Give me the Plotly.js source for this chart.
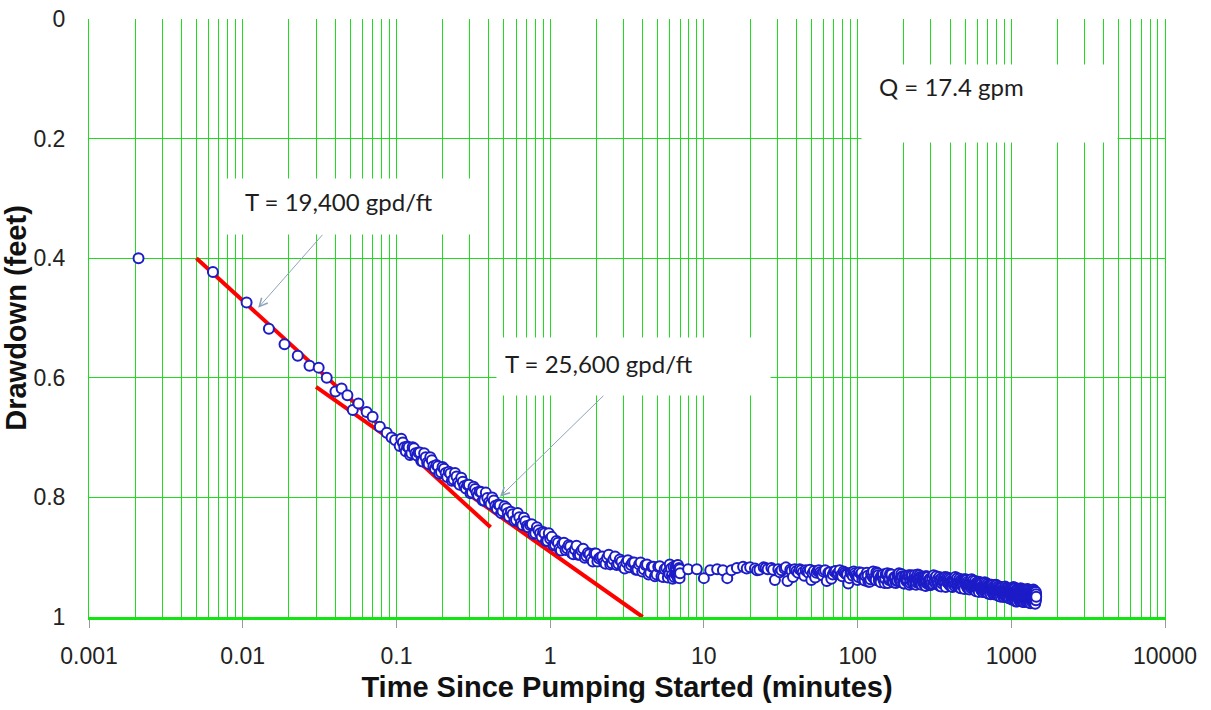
<!DOCTYPE html>
<html>
<head>
<meta charset="utf-8">
<script src="https://cdn.plot.ly/plotly-3.0.1.min.js"></script>
<style>html,body{margin:0;padding:0;background:#fff;}#chart{width:1211px;height:710px;}</style>
</head>
<body>
<div id="chart"></div>
<script>
// ---- Data ----
// Early time (minutes) and drawdown (feet)
const earlyTime = [0.0021, 0.0064, 0.0106, 0.0148, 0.0187, 0.0228, 0.0272, 0.0312, 0.0352, 0.0401,
  0.044, 0.048, 0.052, 0.0566, 0.064, 0.070, 0.078, 0.0865, 0.093, 0.098];
const earlyDraw = [0.400, 0.423, 0.474, 0.518, 0.544, 0.563, 0.580, 0.583, 0.600, 0.623,
  0.618, 0.629, 0.654, 0.643, 0.657, 0.665, 0.682, 0.692, 0.700, 0.704];

const midTime = [0.105, 0.11, 0.115, 0.12, 0.125, 0.13, 0.136, 0.142, 0.148, 0.155,
  0.162, 0.17, 0.178, 0.186, 0.195, 0.204, 0.214, 0.224, 0.235, 0.246,
  0.258, 0.27, 0.283, 0.296, 0.31, 0.325, 0.34, 0.356, 0.373, 0.39,
  0.41, 0.43, 0.45, 0.47, 0.49, 0.52, 0.54, 0.57, 0.6, 0.63,
  0.66, 0.69, 0.72, 0.76, 0.8, 0.84, 0.88, 0.92, 0.96, 1.0];
const midDraw = [0.714, 0.708, 0.723, 0.716, 0.726, 0.718, 0.730, 0.725, 0.740, 0.733,
  0.744, 0.738, 0.752, 0.748, 0.758, 0.752, 0.766, 0.760, 0.770, 0.765,
  0.779, 0.774, 0.785, 0.779, 0.792, 0.786, 0.797, 0.791, 0.805, 0.801,
  0.811, 0.805, 0.819, 0.813, 0.823, 0.818, 0.832, 0.828, 0.838, 0.833,
  0.846, 0.840, 0.850, 0.845, 0.860, 0.855, 0.866, 0.860, 0.873, 0.869];

const midTime2 = [0.1075, 0.1125, 0.1175, 0.1225, 0.1275, 0.133, 0.139, 0.145, 0.1515, 0.1585,
  0.166, 0.174, 0.182, 0.19, 0.1995, 0.209, 0.219, 0.2295, 0.2405, 0.252,
  0.264, 0.2765, 0.2895, 0.303, 0.3175, 0.3325, 0.348, 0.3645, 0.3815, 0.40,
  0.42, 0.44, 0.46, 0.48, 0.505, 0.53, 0.555, 0.585, 0.615, 0.645,
  0.675, 0.705, 0.74, 0.78, 0.82, 0.86, 0.90, 0.94, 0.98];
const midDraw2 = [0.702, 0.716, 0.715, 0.729, 0.716, 0.726, 0.725, 0.739, 0.726, 0.742,
  0.733, 0.748, 0.746, 0.760, 0.749, 0.759, 0.757, 0.772, 0.759, 0.775,
  0.767, 0.781, 0.779, 0.793, 0.782, 0.792, 0.790, 0.805, 0.792, 0.808,
  0.800, 0.814, 0.812, 0.826, 0.815, 0.826, 0.824, 0.839, 0.826, 0.843,
  0.834, 0.848, 0.846, 0.861, 0.850, 0.860, 0.858, 0.873, 0.860];

const transTime = [1.05, 1.1, 1.15, 1.2, 1.26, 1.32, 1.38, 1.45, 1.52, 1.6,
  1.68, 1.76, 1.85, 1.94, 2.03, 2.13, 2.24, 2.35, 2.46, 2.58,
  2.71, 2.84, 2.98, 3.13, 3.28, 3.44, 3.61, 3.79, 3.97, 4.17,
  4.37, 4.59, 4.81, 5.05, 5.3, 5.56, 5.83, 6.12, 6.42, 6.7,
  6.8, 6.85, 6.9, 6.95];
const transDraw = [0.880, 0.873, 0.886, 0.878, 0.888, 0.880, 0.893, 0.887, 0.896, 0.889,
  0.901, 0.893, 0.903, 0.894, 0.907, 0.900, 0.909, 0.901, 0.912, 0.904,
  0.913, 0.904, 0.916, 0.909, 0.917, 0.909, 0.921, 0.912, 0.924, 0.913,
  0.929, 0.916, 0.932, 0.916, 0.932, 0.920, 0.934, 0.919, 0.933, 0.914,
  0.926, 0.930, 0.918, 0.935];

const transTime2 = [1.025, 1.075, 1.125, 1.175, 1.23, 1.29, 1.35, 1.415, 1.485, 1.56,
  1.64, 1.72, 1.805, 1.895, 1.985, 2.08, 2.185, 2.295, 2.405, 2.52,
  2.645, 2.775, 2.91, 3.055, 3.205, 3.36, 3.525, 3.7, 3.88, 4.07,
  4.27, 4.48, 4.7, 4.93, 5.17, 5.43, 5.7, 5.97, 6.27, 6.55,
  6.62, 6.75, 6.88, 5.9, 6.0, 6.2, 6.35, 6.5, 6.6, 6.72,
  6.78, 6.83, 6.92, 6.97, 7.0];
const transDraw2 = [0.866, 0.879, 0.876, 0.889, 0.876, 0.885, 0.882, 0.895, 0.881, 0.896,
  0.886, 0.898, 0.895, 0.907, 0.894, 0.902, 0.899, 0.911, 0.896, 0.910,
  0.899, 0.911, 0.907, 0.919, 0.905, 0.913, 0.909, 0.921, 0.909, 0.920,
  0.912, 0.926, 0.916, 0.929, 0.915, 0.933, 0.918, 0.928, 0.936, 0.916,
  0.929, 0.934, 0.922, 0.924, 0.912, 0.930, 0.916, 0.927, 0.921, 0.932,
  0.913, 0.924, 0.929, 0.920, 0.927];

const flatTime = [7.9, 9.0, 10.0, 11.0, 12.2, 13.3, 14.2, 15.1, 16.4, 18,
  20, 21.5, 23, 24.5, 26, 27.5, 29, 30.5, 32, 33.5,
  35, 36.5, 38, 40, 42, 44, 46, 48, 50, 52,
  54, 56, 58, 60, 63, 66, 69, 72, 75, 78,
  81, 84, 87, 90, 93, 96, 99];
const flatDraw = [0.920, 0.920, 0.935, 0.922, 0.920, 0.922, 0.935, 0.922, 0.918, 0.916,
  0.917, 0.919, 0.921, 0.917, 0.920, 0.918, 0.938, 0.920, 0.922, 0.919,
  0.940, 0.921, 0.933, 0.923, 0.920, 0.925, 0.922, 0.926, 0.938, 0.923,
  0.926, 0.922, 0.928, 0.924, 0.940, 0.925, 0.929, 0.923, 0.927, 0.930,
  0.924, 0.928, 0.944, 0.926, 0.931, 0.927, 0.933];

const flatTime2 = [19, 22.2, 25.2, 28.2, 31.2, 34.2, 37.2, 39, 41, 43,
  45, 47, 49, 51, 53, 55, 57, 59, 61.5, 64.5,
  67.5, 70.5, 73.5, 76.5, 79.5, 82.5, 85.5, 88.5, 91.5, 94.5, 97.5];
const flatDraw2 = [0.919, 0.922, 0.918, 0.921, 0.925, 0.917, 0.923, 0.920, 0.926, 0.922,
  0.931, 0.924, 0.921, 0.927, 0.934, 0.923, 0.925, 0.930, 0.922, 0.926,
  0.936, 0.924, 0.928, 0.922, 0.932, 0.926, 0.929, 0.935, 0.927, 0.924, 0.930];

const lateTime = [100, 105, 110, 115, 120, 125, 130, 135, 140, 145,
  150, 155, 160, 165, 170, 175, 180, 185, 190, 195,
  200, 205, 210, 215, 220, 225, 230, 235, 240, 245,
  250, 255, 260, 265, 270, 275, 280, 285, 290, 295,
  300, 310, 320, 330, 340, 350, 360, 370, 380, 390,
  400, 410, 420, 430, 440, 450, 460, 470, 480, 490,
  500, 510, 520, 530, 540, 550, 560, 570, 580, 590,
  600, 610, 620, 630, 640, 650, 660, 670, 680, 690,
  700, 710, 720, 730, 740, 750, 760, 770, 780, 790,
  800, 810, 820, 830, 840, 850, 860, 870, 880, 890,
  900, 910, 920, 930, 940, 950, 960, 970, 980, 990,
  1000, 1010, 1020, 1030, 1040, 1050, 1060, 1070, 1080, 1090,
  1100, 1110, 1120, 1130, 1140, 1150, 1160, 1170, 1180, 1190,
  1200, 1210, 1220, 1230, 1240, 1250, 1260, 1270, 1280, 1290,
  1300, 1310, 1320, 1330, 1340, 1350, 1360, 1370, 1380, 1390,
  1400, 1410, 1420, 1430, 1440, 1442, 1445, 1448, 1450, 1453];
const lateDraw = [0.938, 0.928, 0.934, 0.926, 0.941, 0.932, 0.937, 0.927, 0.935, 0.931,
  0.943, 0.929, 0.938, 0.929, 0.942, 0.933, 0.940, 0.929, 0.938, 0.932,
  0.944, 0.935, 0.940, 0.931, 0.943, 0.934, 0.938, 0.930, 0.946, 0.936,
  0.943, 0.933, 0.941, 0.934, 0.945, 0.938, 0.943, 0.933, 0.941, 0.936,
  0.945, 0.945, 0.934, 0.942, 0.933, 0.949, 0.938, 0.944, 0.935, 0.942,
  0.937, 0.949, 0.939, 0.948, 0.937, 0.945, 0.936, 0.952, 0.941, 0.948,
  0.938, 0.945, 0.941, 0.953, 0.943, 0.952, 0.941, 0.949, 0.940, 0.957,
  0.946, 0.952, 0.943, 0.950, 0.945, 0.958, 0.947, 0.957, 0.946, 0.953,
  0.945, 0.961, 0.950, 0.957, 0.947, 0.954, 0.950, 0.962, 0.951, 0.961,
  0.950, 0.957, 0.949, 0.965, 0.954, 0.961, 0.951, 0.958, 0.954, 0.966,
  0.955, 0.964, 0.954, 0.961, 0.952, 0.968, 0.957, 0.964, 0.954, 0.961,
  0.956, 0.970, 0.957, 0.969, 0.955, 0.964, 0.952, 0.974, 0.959, 0.967,
  0.954, 0.963, 0.957, 0.973, 0.959, 0.971, 0.957, 0.966, 0.954, 0.975,
  0.960, 0.968, 0.955, 0.965, 0.959, 0.974, 0.960, 0.972, 0.958, 0.967,
  0.955, 0.976, 0.961, 0.970, 0.957, 0.966, 0.960, 0.975, 0.961, 0.973,
  0.959, 0.969, 0.957, 0.978, 0.963, 0.968, 0.958, 0.972, 0.962, 0.966];

const lateTime2 = [102.5, 107.5, 112.5, 117.5, 122.5, 127.5, 132.5, 137.5, 142.5, 147.5,
  152.5, 157.5, 162.5, 167.5, 172.5, 177.5, 182.5, 187.5, 192.5, 197.5,
  202.5, 207.5, 212.5, 217.5, 222.5, 227.5, 232.5, 237.5, 242.5, 247.5,
  252.5, 257.5, 262.5, 267.5, 272.5, 277.5, 282.5, 287.5, 292.5, 297.5,
  305, 315, 325, 335, 345, 355, 365, 375, 385, 395,
  405, 415, 425, 435, 445, 455, 465, 475, 485, 495,
  505, 515, 525, 535, 545, 555, 565, 575, 585, 595,
  605, 615, 625, 635, 645, 655, 665, 675, 685, 695,
  705, 715, 725, 735, 745, 755, 765, 775, 785, 795,
  805, 815, 825, 835, 845, 855, 865, 875, 885, 895,
  905, 915, 925, 935, 945, 955, 965, 975, 985, 995,
  1005, 1015, 1025, 1035, 1045, 1055, 1065, 1075, 1085, 1095,
  1105, 1115, 1125, 1135, 1145, 1155, 1165, 1175, 1185, 1195,
  1205, 1215, 1225, 1235, 1245, 1255, 1265, 1275, 1285, 1295,
  1305, 1315, 1325, 1335, 1345, 1355, 1365, 1375, 1385, 1395,
  1405, 1415, 1425, 1435];
const lateDraw2 = [0.925, 0.937, 0.931, 0.941, 0.928, 0.935, 0.925, 0.939, 0.931, 0.938,
  0.928, 0.943, 0.928, 0.940, 0.934, 0.943, 0.930, 0.938, 0.928, 0.942,
  0.933, 0.940, 0.931, 0.946, 0.930, 0.942, 0.936, 0.945, 0.933, 0.940,
  0.930, 0.944, 0.935, 0.942, 0.933, 0.948, 0.932, 0.944, 0.938, 0.947,
  0.934, 0.941, 0.932, 0.946, 0.937, 0.944, 0.934, 0.950, 0.934, 0.946,
  0.940, 0.950, 0.937, 0.944, 0.935, 0.949, 0.940, 0.947, 0.938, 0.953,
  0.937, 0.950, 0.944, 0.954, 0.941, 0.948, 0.939, 0.953, 0.945, 0.952,
  0.942, 0.958, 0.942, 0.954, 0.949, 0.958, 0.946, 0.953, 0.943, 0.958,
  0.949, 0.956, 0.947, 0.962, 0.946, 0.959, 0.953, 0.962, 0.950, 0.957,
  0.947, 0.962, 0.953, 0.960, 0.951, 0.966, 0.950, 0.963, 0.957, 0.966,
  0.953, 0.961, 0.951, 0.965, 0.956, 0.963, 0.954, 0.969, 0.953, 0.965,
  0.959, 0.971, 0.954, 0.964, 0.951, 0.969, 0.958, 0.967, 0.954, 0.974,
  0.953, 0.968, 0.962, 0.973, 0.956, 0.966, 0.953, 0.971, 0.959, 0.968,
  0.955, 0.975, 0.955, 0.970, 0.963, 0.974, 0.957, 0.967, 0.954, 0.972,
  0.960, 0.969, 0.957, 0.977, 0.956, 0.971, 0.964, 0.975, 0.958, 0.968,
  0.956, 0.974, 0.962, 0.971];

const lateTime3 = [101.25, 106.25, 111.25, 116.25, 121.25, 126.25, 131.25, 136.25, 141.25, 146.25,
  151.25, 156.25, 161.25, 166.25, 171.25, 176.25, 181.25, 186.25, 191.25, 196.25,
  201.25, 206.25, 211.25, 216.25, 221.25, 226.25, 231.25, 236.25, 241.25, 246.25,
  251.25, 256.25, 261.25, 266.25, 271.25, 276.25, 281.25, 286.25, 291.25, 296.25,
  302.5, 312.5, 322.5, 332.5, 342.5, 352.5, 362.5, 372.5, 382.5, 392.5,
  402.5, 412.5, 422.5, 432.5, 442.5, 452.5, 462.5, 472.5, 482.5, 492.5,
  502.5, 512.5, 522.5, 532.5, 542.5, 552.5, 562.5, 572.5, 582.5, 592.5,
  602.5, 612.5, 622.5, 632.5, 642.5, 652.5, 662.5, 672.5, 682.5, 692.5,
  702.5, 712.5, 722.5, 732.5, 742.5, 752.5, 762.5, 772.5, 782.5, 792.5,
  802.5, 812.5, 822.5, 832.5, 842.5, 852.5, 862.5, 872.5, 882.5, 892.5,
  902.5, 912.5, 922.5, 932.5, 942.5, 952.5, 962.5, 972.5, 982.5, 992.5,
  1002.5, 1012.5, 1022.5, 1032.5, 1042.5, 1052.5, 1062.5, 1072.5, 1082.5, 1092.5,
  1102.5, 1112.5, 1122.5, 1132.5, 1142.5, 1152.5, 1162.5, 1172.5, 1182.5, 1192.5,
  1202.5, 1212.5, 1222.5, 1232.5, 1242.5, 1252.5, 1262.5, 1272.5, 1282.5, 1292.5,
  1302.5, 1312.5, 1322.5, 1332.5, 1342.5, 1352.5, 1362.5, 1372.5, 1382.5, 1392.5,
  1402.5, 1412.5, 1422.5, 1432.5];
const lateDraw3 = [0.933, 0.926, 0.939, 0.931, 0.937, 0.924, 0.938, 0.930, 0.942, 0.929,
  0.936, 0.927, 0.936, 0.929, 0.942, 0.933, 0.939, 0.927, 0.941, 0.933,
  0.944, 0.931, 0.938, 0.930, 0.938, 0.931, 0.944, 0.935, 0.942, 0.929,
  0.943, 0.935, 0.946, 0.933, 0.941, 0.932, 0.940, 0.933, 0.946, 0.937,
  0.943, 0.930, 0.944, 0.937, 0.948, 0.935, 0.942, 0.933, 0.942, 0.935,
  0.948, 0.939, 0.946, 0.933, 0.947, 0.940, 0.951, 0.938, 0.945, 0.937,
  0.945, 0.938, 0.952, 0.943, 0.950, 0.937, 0.951, 0.944, 0.955, 0.943,
  0.950, 0.941, 0.950, 0.943, 0.956, 0.948, 0.954, 0.942, 0.956, 0.948,
  0.960, 0.947, 0.954, 0.946, 0.954, 0.947, 0.961, 0.952, 0.958, 0.946,
  0.960, 0.952, 0.964, 0.951, 0.958, 0.950, 0.958, 0.951, 0.965, 0.956,
  0.962, 0.949, 0.964, 0.956, 0.967, 0.954, 0.961, 0.953, 0.961, 0.954,
  0.969, 0.957, 0.966, 0.950, 0.967, 0.957, 0.972, 0.956, 0.965, 0.953,
  0.963, 0.954, 0.971, 0.960, 0.968, 0.952, 0.969, 0.959, 0.973, 0.957,
  0.966, 0.954, 0.964, 0.956, 0.973, 0.961, 0.969, 0.953, 0.970, 0.960,
  0.974, 0.958, 0.967, 0.956, 0.966, 0.957, 0.974, 0.962, 0.970, 0.954,
  0.972, 0.962, 0.976, 0.960];

// Straight-line (Cooper-Jacob) fits drawn in red
const fit1Time = [0.005, 0.41];
const fit1Draw = [0.400, 0.850];
const fit2Time = [0.03, 4.0];
const fit2Draw = [0.615, 1.000];

// Axis tick labels
const xTickVals = [0.001, 0.01, 0.1, 1, 10, 100, 1000, 10000];
const xTickText = ['0.001', '0.01', '0.1', '1', '10', '100', '1000', '10000'];
const yTickVals = [0, 0.2, 0.4, 0.6, 0.8, 1];
const yTickText = ['0', '0.2', '0.4', '0.6', '0.8', '1'];

// Annotation texts and the points they refer to
const noteTexts = ['T = 19,400 gpd/ft', 'T = 25,600 gpd/ft', 'Q = 17.4 gpm'];
const noteTargetsTime = [0.0126, 0.472, 418];
const noteTargetsDraw = [0.483, 0.799, 0.115];

// ---- Build chart ----
const GREEN = '#1fdc1f';
const rawTime = earlyTime.concat(midTime, midTime2, transTime, transTime2, flatTime, flatTime2, lateTime, lateTime2, lateTime3);
const rawDraw = earlyDraw.concat(midDraw, midDraw2, transDraw, transDraw2, flatDraw, flatDraw2, lateDraw, lateDraw2, lateDraw3);
// plot the readings in chronological order (as a logger records them)
const order = rawTime.map((t, i) => i).sort((a, b) => rawTime[a] - rawTime[b]);
const allTime = order.map(i => rawTime[i]);
const allDraw = order.map(i => rawDraw[i]);

const traces = [
  {x: fit1Time, y: fit1Draw, type: 'scatter', mode: 'lines', line: {color: '#ff0000', width: 4}, hoverinfo: 'skip'},
  {x: fit2Time, y: fit2Draw, type: 'scatter', mode: 'lines', line: {color: '#ff0000', width: 4}, hoverinfo: 'skip'},
  {x: allTime, y: allDraw, type: 'scatter', mode: 'markers',
   marker: {symbol: 'circle', size: 10, color: '#ffffff', line: {color: '#1c1cc8', width: 2}}}
];

const noteFont = {family: 'Lato, "Open Sans", sans-serif', size: 24, color: '#1e1e1e'};
const arrowColor = '#8da3bb';

const annotations = [
  // white boxes (with arrows for the transmissivity notes)
  {x: Math.log10(noteTargetsTime[0]), y: noteTargetsDraw[0], xref: 'x', yref: 'y', text: ' ',
   showarrow: true, ax: 89, ay: -101, arrowhead: 5, arrowsize: 1.6, arrowwidth: 1, arrowcolor: arrowColor,
   bgcolor: '#ffffff', width: 245, height: 55, borderpad: 0},
  {x: Math.log10(noteTargetsTime[1]), y: noteTargetsDraw[1], xref: 'x', yref: 'y', text: ' ',
   showarrow: true, ax: 133, ay: -130, arrowhead: 5, arrowsize: 1.6, arrowwidth: 1, arrowcolor: arrowColor,
   bgcolor: '#ffffff', width: 273, height: 57, borderpad: 0},
  {x: Math.log10(noteTargetsTime[2]), y: noteTargetsDraw[2], xref: 'x', yref: 'y', text: ' ',
   showarrow: false, xshift: 36, yshift: -16, bgcolor: '#ffffff', width: 255, height: 77, borderpad: 0},
  // texts
  {x: Math.log10(noteTargetsTime[0]), y: noteTargetsDraw[0], xref: 'x', yref: 'y', text: noteTexts[0],
   showarrow: false, xanchor: 'left', xshift: -15, yshift: 106, font: noteFont},
  {x: Math.log10(noteTargetsTime[1]), y: noteTargetsDraw[1], xref: 'x', yref: 'y', text: noteTexts[1],
   showarrow: false, xanchor: 'left', xshift: 3, yshift: 133, font: noteFont},
  {x: Math.log10(noteTargetsTime[2]), y: noteTargetsDraw[2], xref: 'x', yref: 'y', text: noteTexts[2],
   showarrow: false, xanchor: 'left', xshift: -76, yshift: 1, font: noteFont}
];

const axisFont = {family: '"Liberation Sans", Arial, sans-serif', size: 23, color: '#222222'};
const titleFont = {family: '"Liberation Sans", Arial, sans-serif', size: 29, color: '#111111', weight: 'bold'};

const layout = {
  width: 1211, height: 710,
  margin: {l: 89, r: 46, t: 19, b: 93},
  paper_bgcolor: '#ffffff', plot_bgcolor: '#ffffff',
  showlegend: false,
  xaxis: {
    type: 'log', range: [-3, 4],
    tickmode: 'array', tickvals: xTickVals, ticktext: xTickText,
    ticks: 'outside', ticklen: 8, tickcolor: '#9a9a9a', tickwidth: 1,
    ticklabelstandoff: 8,
    showgrid: true, gridcolor: GREEN, gridwidth: 1,
    minor: {dtick: 'D1', showgrid: true, gridcolor: GREEN, gridwidth: 1, ticks: ''},
    showline: true, linecolor: '#12e612', linewidth: 3,
    zeroline: false, tickfont: axisFont,
    title: {text: 'Time Since Pumping Started (minutes)', font: titleFont, standoff: 10}
  },
  yaxis: {
    range: [1, 0],
    tickmode: 'array', tickvals: yTickVals, ticktext: yTickText,
    ticks: '', ticklabelstandoff: 18,
    showgrid: true, gridcolor: GREEN, gridwidth: 1,
    showline: true, linecolor: GREEN, linewidth: 1, mirror: true,
    zeroline: false, tickfont: axisFont,
    title: {text: 'Drawdown (feet)', font: titleFont, standoff: 0}
  },
  annotations: annotations
};

Plotly.newPlot('chart', traces, layout, {staticPlot: true});
</script>
</body>
</html>
